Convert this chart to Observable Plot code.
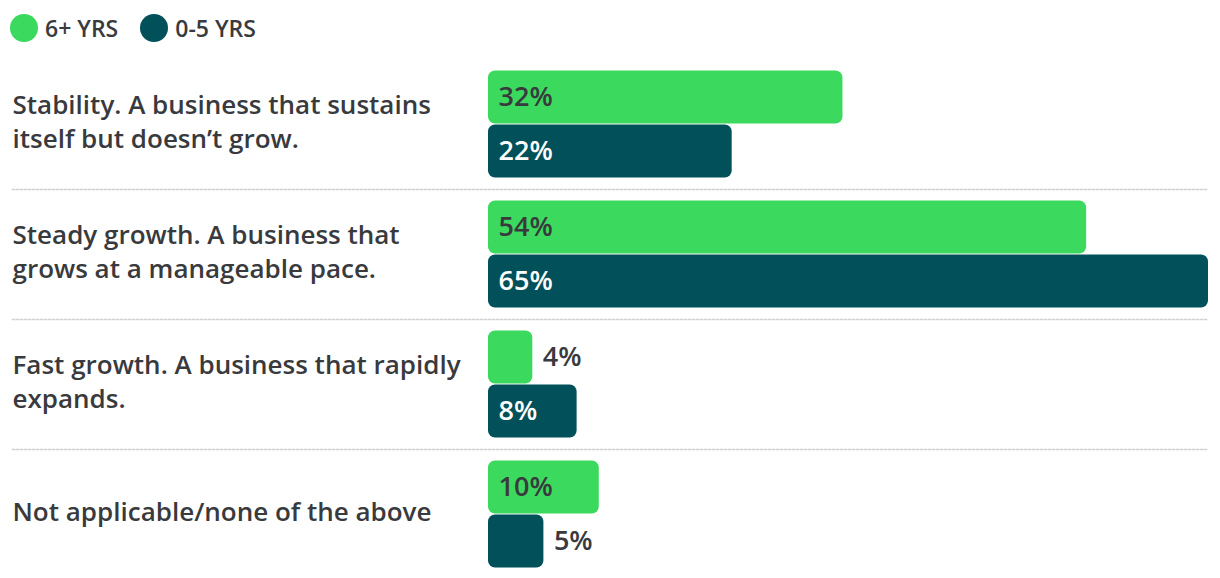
<!DOCTYPE html>
<html><head><meta charset="utf-8">
<script src="https://cdn.jsdelivr.net/npm/d3@7"></script>
<script src="https://cdn.jsdelivr.net/npm/@observablehq/plot@0.6"></script>
<style>
body{margin:0;background:#fff;font-family:"Open Sans",sans-serif;}
.legend{display:flex;align-items:center;height:56px;padding-left:10px;font-family:"Open Sans",sans-serif;font-weight:600;font-size:23px;color:#393a3d}
.item{display:flex;align-items:center;margin-right:22px}
.sw{width:28px;height:28px;border-radius:50%;margin-right:7px}
#chart svg{display:block}
</style></head><body>
<div id="legend" class="legend"></div>
<div id="chart"></div>
<script>
const categories = [
  "Stability. A business that sustains itself but doesn’t grow.",
  "Steady growth. A business that grows at a manageable pace.",
  "Fast growth. A business that rapidly expands.",
  "Not applicable/none of the above"
];
const categoryLabels = [
  "Stability. A business that sustains\nitself but doesn’t grow.",
  "Steady growth. A business that\ngrows at a manageable pace.",
  "Fast growth. A business that rapidly\nexpands.",
  "Not applicable/none of the above"
];
const seriesNames = ["6+ YRS", "0-5 YRS"];
const seriesColors = ["#3bd95e", "#02505a"];
const values6Plus = [32, 54, 4, 10];
const values0to5 = [22, 65, 8, 5];

const rows = [];
categories.forEach((c, i) => {
  rows.push({category: c, series: seriesNames[0], value: values6Plus[i]});
  rows.push({category: c, series: seriesNames[1], value: values0to5[i]});
});

// legend
const legend = document.getElementById("legend");
seriesNames.forEach((s, i) => {
  const item = document.createElement("div");
  item.className = "item";
  item.innerHTML = `<span class="sw" style="background:${seriesColors[i]}"></span><span>${s}</span>`;
  legend.appendChild(item);
});

const textColor = "#393a3d";
const inside = d => d.value >= 8;
const fmt = d => d.value + "%";
const pctFont = {fontSize: 27, fontWeight: 600};

const plot = Plot.plot({
  width: 1220,
  height: 523,
  marginTop: 3,
  marginBottom: 0,
  marginLeft: 12,
  marginRight: 12,
  style: {fontFamily: "'Open Sans', sans-serif", background: "#fff"},
  x: {domain: [0, 65], range: [488, 1208], axis: null},
  fy: {domain: categories, padding: 0, axis: null},
  y: {domain: seriesNames, paddingInner: 0, paddingOuter: 0.2, axis: null},
  color: {domain: seriesNames, range: seriesColors},
  marks: [
    Plot.frame({anchor: "bottom", stroke: "#d2d2d2", strokeWidth: 1.6, strokeDasharray: "2,2"}),
    Plot.barX(rows, {x: "value", y: "series", fy: "category", fill: "series", rx: 7, insetTop: 0.5, insetBottom: 0.5}),
    Plot.text(rows, {filter: d => inside(d) && d.series === seriesNames[0], x: 0, y: "series", fy: "category", text: fmt, textAnchor: "start", dx: 10, fill: textColor, ...pctFont}),
    Plot.text(rows, {filter: d => inside(d) && d.series === seriesNames[1], x: 0, y: "series", fy: "category", text: fmt, textAnchor: "start", dx: 10, fill: "#ffffff", ...pctFont}),
    Plot.text(rows, {filter: d => !inside(d), x: "value", y: "series", fy: "category", text: fmt, textAnchor: "start", dx: 10, fill: textColor, ...pctFont}),
    Plot.text(categories, {fy: d => d, text: (d, i) => categoryLabels[i], frameAnchor: "left", textAnchor: "start", dy: -4, lineHeight: 1.31, fontSize: 26, fontWeight: 600, fill: textColor})
  ]
});
document.getElementById("chart").appendChild(plot);
</script>
</body></html>
